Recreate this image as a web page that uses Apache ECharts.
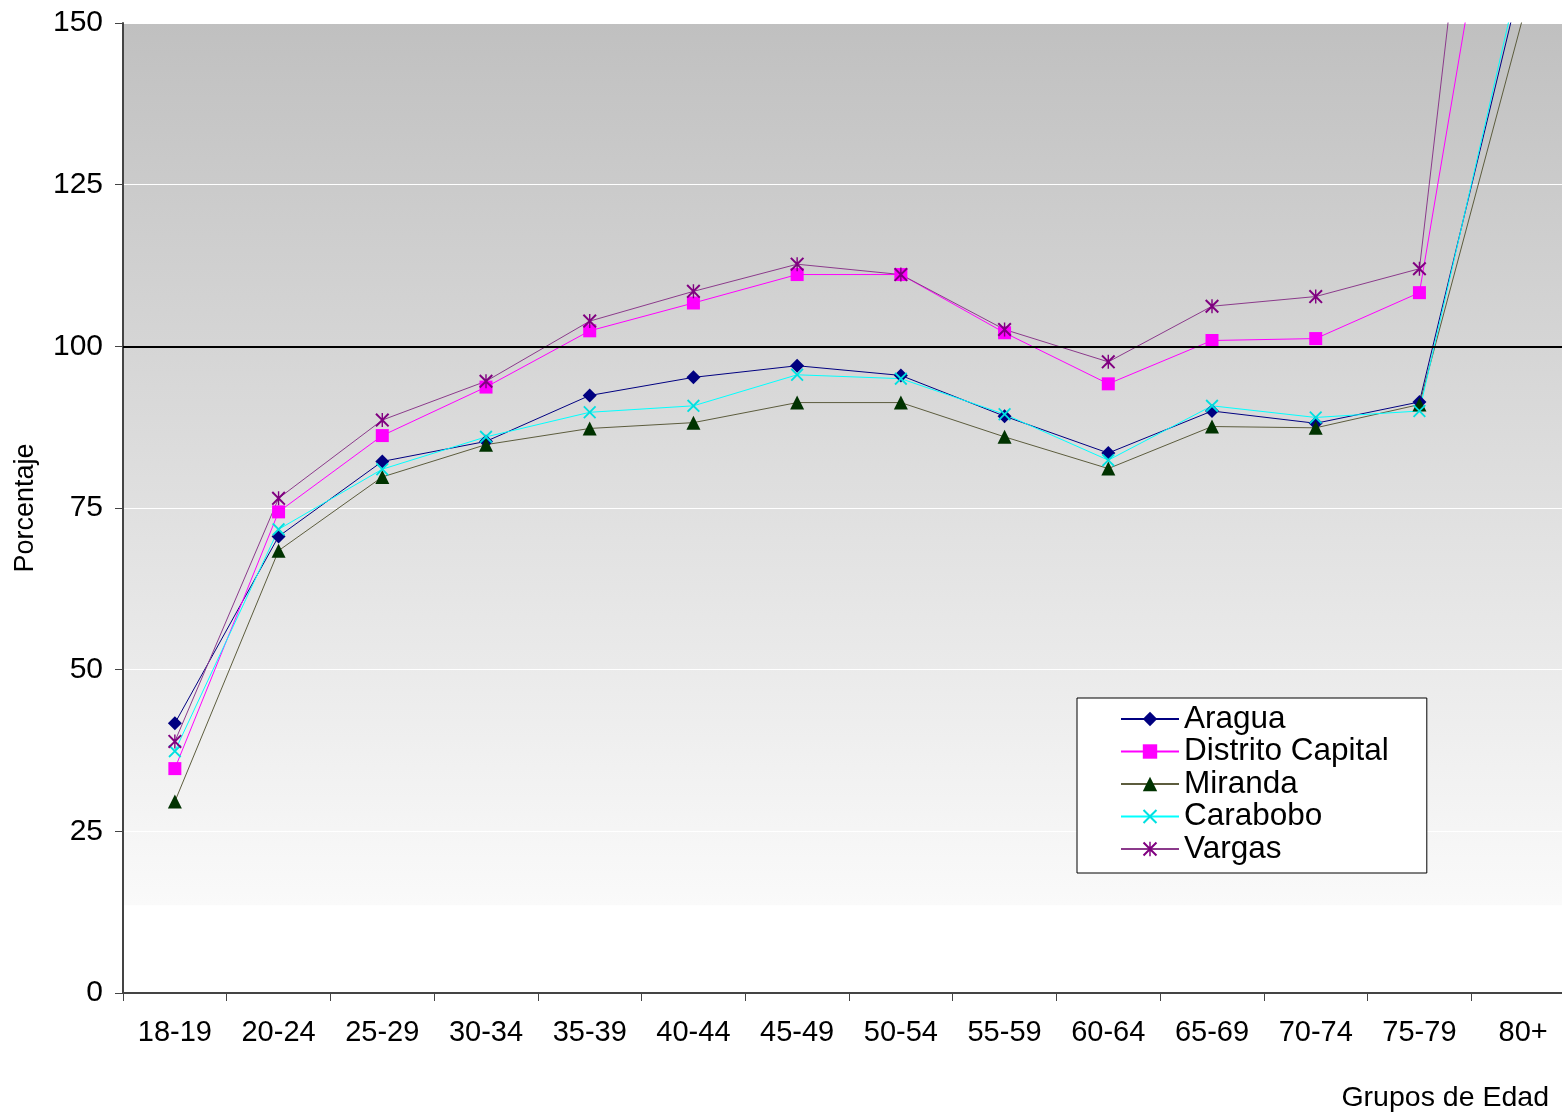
<!DOCTYPE html>
<html>
<head>
<meta charset="utf-8">
<script src="https://cdn.jsdelivr.net/npm/echarts@6/dist/echarts.min.js"></script>
<style>
  html, body { margin: 0; padding: 0; background: #fff; }
  #chart { width: 1562px; height: 1117px; }
</style>
</head>
<body>
<div id="chart"></div>
<script>
// categorias de edad
const grupos = ['18-19', '20-24', '25-29', '30-34', '35-39', '40-44', '45-49', '50-54', '55-59', '60-64', '65-69', '70-74', '75-79', '80+']
// valores (80+ sale por arriba del eje)
const aragua = [41.7, 70.6, 82.2, 85.3, 92.4, 95.2, 97.0, 95.5, 89.2, 83.5, 90.0, 88.1, 91.4, 158]
const distritoCapital = [34.7, 74.4, 86.2, 93.7, 102.4, 106.7, 111.1, 111.1, 102.1, 94.2, 100.9, 101.2, 108.3, 203]
const miranda = [29.6, 68.4, 79.8, 84.8, 87.3, 88.2, 91.3, 91.3, 86.0, 81.1, 87.6, 87.4, 91.0, 151]
const carabobo = [37.4, 71.7, 81.0, 86.0, 89.8, 90.8, 95.6, 95.0, 89.5, 82.4, 90.8, 89.0, 90.0, 160]
const vargas = [38.9, 76.5, 88.6, 94.6, 103.9, 108.5, 112.7, 111.1, 102.6, 97.6, 106.2, 107.7, 112.0, 250]
const yTicks = [0, 25, 50, 75, 100, 125, 150]

const font = "'Liberation Sans', Arial, sans-serif"

// simbolos tipo Excel
const crossPath = 'path://M0,1L1,0L5,4L9,0L10,1L6,5L10,9L9,10L5,6L1,10L0,9L4,5Z'
const starPath = 'path://M0,1L1,0L5,4L9,0L10,1L6,5L10,9L9,10L5,6L1,10L0,9L4,5ZM4.5,0L5.5,0L5.5,10L4.5,10Z'

const chart = echarts.init(document.getElementById('chart'))

function serie(name, data, lineColor, symColor, symbol, size) {
  return {
    name,
    type: 'line',
    data,
    symbol,
    symbolSize: size,
    lineStyle: { color: lineColor, width: 1 },
    itemStyle: { color: symColor },
    emphasis: { disabled: true },
    animation: false
  }
}

const series = [
  serie('Aragua', aragua, '#000080', '#000080', 'diamond', 14),
  serie('Distrito Capital', distritoCapital, '#ff00ff', '#ff00ff', 'rect', 13),
  serie('Miranda', miranda, '#5c5c3d', '#003300', 'triangle', 14),
  serie('Carabobo', carabobo, '#00ffff', '#00e0e0', crossPath, 13),
  serie('Vargas', vargas, '#8b3a8b', '#800080', starPath, 14)
]
// linea de referencia en 100
series[0].markLine = {
  silent: true,
  symbol: 'none',
  label: { show: false },
  lineStyle: { color: '#000', width: 2, type: 'solid' },
  data: [{ yAxis: 100 }]
}

const option = {
  backgroundColor: '#fff',
  animation: false,
  textStyle: { fontFamily: font },
  grid: {
    // el area de trazado sigue un poco mas alla del borde derecho
    left: 123,
    width: 1452,
    top: 23,
    bottom: 124,
    outerBoundsMode: 'none',
    containLabel: false,
    show: true,
    borderWidth: 0,
    backgroundColor: new echarts.graphic.LinearGradient(0, 0, 0, 1, [
      { offset: 0, color: '#c0c0c0' },
      { offset: 0.909, color: '#fafafa' },
      { offset: 0.91, color: '#ffffff' },
      { offset: 1, color: '#ffffff' }
    ])
  },
  legend: {
    orient: 'vertical',
    left: 1077,
    top: 698,
    padding: [5, 38, 8, 43],
    backgroundColor: '#fff',
    borderColor: '#000',
    borderWidth: 1,
    itemWidth: 58,
    itemHeight: 18,
    itemGap: 0.5,
    textStyle: { fontSize: 31.5, color: '#000', fontFamily: font, lineHeight: 30 }
  },
  xAxis: {
    type: 'category',
    data: grupos,
    axisLine: { lineStyle: { color: '#444', width: 2 } },
    axisTick: { show: true, length: 8, lineStyle: { color: '#444' } },
    axisLabel: { color: '#000', fontSize: 29, margin: 25, fontFamily: font },
    splitLine: { show: false }
  },
  yAxis: {
    type: 'value',
    min: 0,
    max: 150,
    interval: 25,
    name: 'Porcentaje',
    nameLocation: 'middle',
    nameGap: 84,
    nameTextStyle: { fontSize: 27, color: '#000', fontFamily: font },
    axisLine: { show: true, lineStyle: { color: '#444', width: 2 } },
    axisTick: { show: true, length: 8, lineStyle: { color: '#444' } },
    axisLabel: {
      color: '#000',
      fontSize: 30,
      margin: 20,
      fontFamily: font,
      formatter: v => (yTicks.includes(v) ? String(v) : '')
    },
    splitLine: { show: true, lineStyle: { color: '#ffffff', width: 1 } }
  },
  graphic: [
    {
      type: 'text',
      right: 13,
      top: 1084,
      style: { text: 'Grupos de Edad', font: '28.5px ' + font, fill: '#000' }
    }
  ],
  series
}

chart.setOption(option)
</script>
</body>
</html>
